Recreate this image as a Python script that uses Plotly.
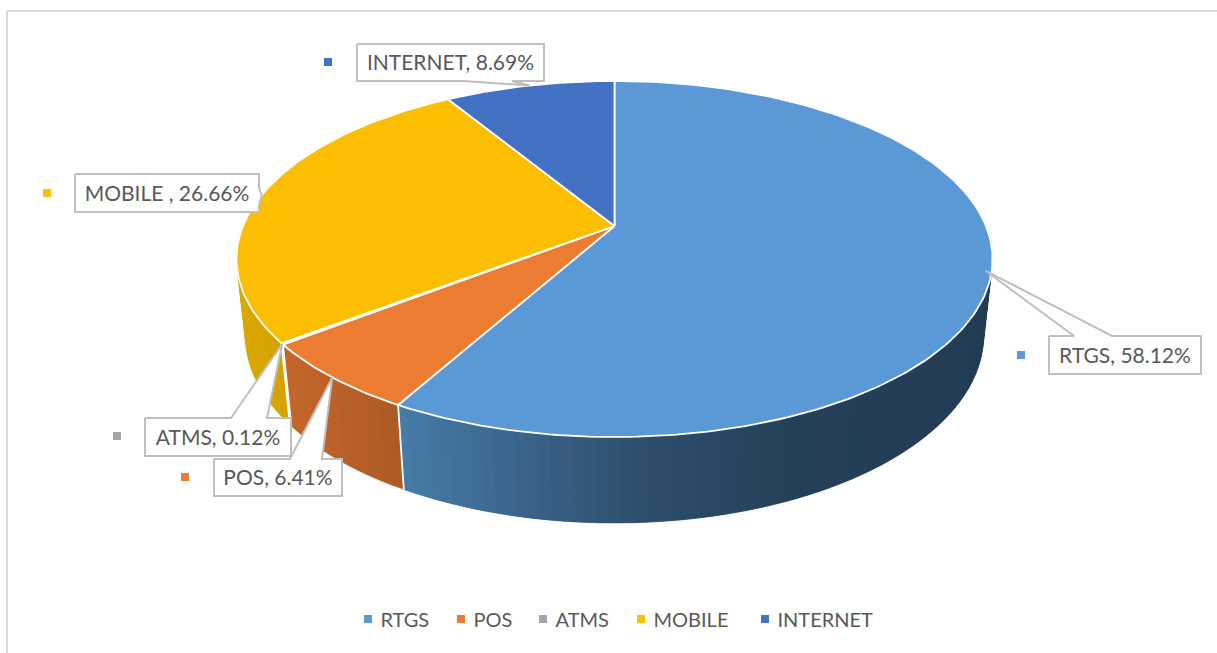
import numpy as np
import plotly.graph_objects as go

# ---- data ----
categories = ["RTGS", "POS", "ATMS", "MOBILE", "INTERNET"]
label_names = ["RTGS", "POS", "ATMS", "MOBILE ", "INTERNET"]
values = [58.12, 6.41, 0.12, 26.66, 8.69]

# ---- styles ----
top_colors = ["#5A99D5", "#EC7C31", "#A5A5A5", "#FBBE00", "#4371C3"]
key_colors = ["#5B9BD5", "#ED7D31", "#A5A5A5", "#FFC000", "#4472C4"]
TEXT = "#595959"
BOX = "#BFBFBF"
FONT = "Lato"
FS = 21

# projection of the disc: (u, v) on the unit circle, z = 0 top, z = 1 bottom
AX, AY = 614.5, 226.0
RX, RY, P, Q, H = 371.5, 171.9, 0.1854, 0.023, 76.9


def project(angle_deg, r=1.0, z=0.0):
    a = np.radians(np.asarray(angle_deg, dtype=float))
    u, v = r * np.sin(a), r * np.cos(a)
    w = 1 + P * v + Q * z
    return AX + RX * u / w, AY + (-RY * v + H * z) / w


# wall colour as a function of screen x: [(x, rgb), ...]
wall_ramps = [
    [(400, (70, 124, 168)), (520, (58, 100, 138)), (640, (46, 78, 108)), (800, (36, 64, 88)), (1000, (34, 60, 84))],
    [(285, (196, 102, 44)), (405, (172, 89, 36))],
    [(280, (140, 140, 140)), (300, (140, 140, 140))],
    [(235, (218, 168, 0)), (290, (212, 162, 0))],
    [(0, (50, 80, 140)), (1, (50, 80, 140))],
]


def ramp_color(ramp, x):
    xs = [p[0] for p in ramp]
    c = [np.interp(x, xs, [p[1][i] for p in ramp]) for i in range(3)]
    return "rgb(%d,%d,%d)" % tuple(int(round(i)) for i in c)


bounds = np.concatenate([[0], np.cumsum(values)]) * 3.6
fig = go.Figure()


def poly(x, y, fill, line=None, width=1.0):
    fig.add_trace(go.Scatter(
        x=list(x), y=list(y), mode="lines", fill="toself", fillcolor=fill,
        line=dict(color=line or fill, width=width), hoverinfo="skip", showlegend=False))


# side walls, only the front half of the disc; strips overlap to hide seams
for i in range(len(values)):
    a0, a1 = max(bounds[i], 80.0), min(bounds[i + 1], 280.0)
    if a1 <= a0:
        continue
    n = max(1, int((a1 - a0) / 1.5))
    edges = np.linspace(a0, a1, n + 1)
    step = edges[1] - edges[0]
    for s in edges[:-1]:
        e = min(s + 2 * step, a1)
        arc = np.linspace(s, e, 5)
        tx, ty = project(arc)
        bx, by = project(arc[::-1], z=1)
        col = ramp_color(wall_ramps[i], float(project([s + step / 2])[0][0]))
        poly(np.r_[tx, bx], np.r_[ty, by], col, col, 0.3)

# white seams on the walls
for b in bounds[1:-1]:
    tx, ty = project([b])
    bx, by = project([b], z=1)
    fig.add_trace(go.Scatter(x=[tx[0], bx[0]], y=[ty[0], by[0]], mode="lines",
                             line=dict(color="white", width=1.8), hoverinfo="skip", showlegend=False))

# top faces
for i in range(len(values)):
    n = max(2, int(values[i] * 3.6))
    ang = np.linspace(bounds[i], bounds[i + 1], n + 1)
    x, y = project(ang)
    cx, cy = project([0], r=0)
    poly(np.r_[cx, x, cx], np.r_[cy, y, cy], top_colors[i], "white", 1.8)

# callout boxes
boxes = {
    "RTGS": dict(l=1049, r=1201, t=336, b=374, side="top", base=(1074, 1112), key=(1021, 355)),
    "POS": dict(l=214, r=342, t=459, b=496, side="top", base=(290, 322), key=(185, 477)),
    "ATMS": dict(l=145, r=291, t=418, b=456, side="top", base=(231, 267), key=(117, 436)),
    "MOBILE": dict(l=75, r=259, t=174, b=212, side="right", base=(188, 205), key=(47, 193)),
    "INTERNET": dict(l=357, r=544, t=44, b=81, side="bottom", base=(463, 512), key=(328, 62)),
}
tip_r = [0.985, 1.0, 1.0, 1.0, 1.0]
order = ["RTGS", "ATMS", "POS", "MOBILE", "INTERNET"]
for name in order:
    i = categories.index(name)
    b = boxes[name]
    mid = (bounds[i] + bounds[i + 1]) / 2
    tx, ty = project([mid], r=tip_r[i])
    tx, ty = float(tx[0]), float(ty[0])
    l, r, t, bt = b["l"], b["r"], b["t"], b["b"]
    b0, b1 = b["base"]
    if b["side"] == "top":
        xs = [l, b0, tx, b1, r, r, l, l]
        ys = [t, t, ty, t, t, bt, bt, t]
    elif b["side"] == "bottom":
        xs = [l, r, r, b1, tx, b0, l, l]
        ys = [t, t, bt, bt, ty, bt, bt, t]
    else:
        xs = [l, r, r, tx, r, r, l, l]
        ys = [t, t, b0, ty, b1, bt, bt, t]
    poly(xs, ys, "white", BOX, 2)
    fig.add_trace(go.Scatter(
        x=[(l + r) / 2], y=[(t + bt) / 2 + 2.5], mode="text",
        text=[f"{label_names[i]}, {values[i]:.2f}%"],
        textposition="middle center",
        textfont=dict(family=FONT, size=FS, color=TEXT),
        hoverinfo="skip", showlegend=False))
    fig.add_trace(go.Scatter(
        x=[b["key"][0]], y=[b["key"][1]], mode="markers",
        marker=dict(symbol="square", size=8, color=key_colors[i]),
        hoverinfo="skip", showlegend=False))

# legend row
legend_key_x = [368, 461, 543, 641, 765]
LEGEND_Y = 619
for i, c in enumerate(categories):
    fig.add_trace(go.Scatter(
        x=[legend_key_x[i]], y=[LEGEND_Y], mode="markers", name=c,
        marker=dict(symbol="square", size=8, color=key_colors[i]),
        hoverinfo="skip", showlegend=False))
    fig.add_trace(go.Scatter(
        x=[legend_key_x[i] + 12.5], y=[LEGEND_Y + 2.5], mode="text", text=[c],
        textposition="middle right",
        textfont=dict(family=FONT, size=20, color=TEXT),
        hoverinfo="skip", showlegend=False))

# chart frame
fig.add_shape(type="line", x0=7, x1=7, y0=11, y1=653, line=dict(color="#D9D9D9", width=2), layer="below")
fig.add_shape(type="line", x0=7, x1=1217, y0=11, y1=11, line=dict(color="#D9D9D9", width=2), layer="below")

fig.update_layout(
    width=1217, height=653, margin=dict(l=0, r=0, t=0, b=0),
    paper_bgcolor="white", plot_bgcolor="white", showlegend=False,
    xaxis=dict(range=[0, 1217], visible=False, fixedrange=True),
    yaxis=dict(range=[653, 0], visible=False, fixedrange=True),
)
fig.write_html("out.html", config=dict(displayModeBar=False),
               post_script="document.body.style.margin='0';document.body.style.overflow='hidden';")
